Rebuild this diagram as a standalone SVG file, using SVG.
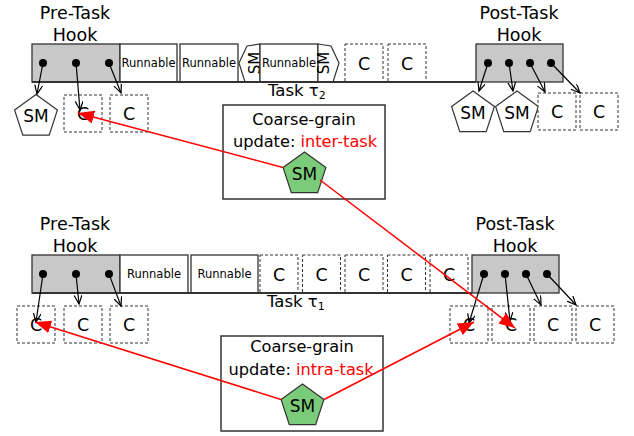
<svg xmlns="http://www.w3.org/2000/svg" width="634" height="436" viewBox="0 0 634 436">
<style>
text{font-family:"DejaVu Sans","Liberation Sans",sans-serif;fill:#000}
.lbl{font-size:17.5px;text-anchor:middle}
.hook{fill:#c8c8c8;stroke:#333;stroke-width:1.3}
.run{fill:#fff;stroke:#333;stroke-width:1.3}
.rt{font-size:11.5px;text-anchor:middle}
.dash{fill:#fff;stroke:#333;stroke-width:1;stroke-dasharray:3 2}
.ct{font-size:17.5px;text-anchor:middle}
.sm{fill:#fff;stroke:#333;stroke-width:1.2}
.gsm{fill:#7acb7a;stroke:#333;stroke-width:1.2}
.st{font-size:17px;text-anchor:middle}
.dot{fill:#000}
.tl{stroke:#333;stroke-width:2}
.box{fill:#fff;stroke:#333;stroke-width:1.5}
.cg{font-size:16.2px;text-anchor:middle}
.ca{stroke:#000;stroke-width:1.2;fill:none;marker-end:url(#bk)}
.ra{stroke:#f00;stroke-width:1.5;fill:none;marker-end:url(#rd)}
.red{fill:#f00}
</style>
<defs>
<marker id="bk" markerUnits="userSpaceOnUse" markerWidth="12" markerHeight="12" refX="9" refY="4" orient="auto">
<path d="M0,0 L9,4 L0,8" fill="none" stroke="#000" stroke-width="1.2"/>
</marker>
<marker id="rd" markerUnits="userSpaceOnUse" markerWidth="18" markerHeight="14" refX="16" refY="6.5" orient="auto">
<path d="M0,0 L16,6.5 L0,13 z" fill="#f00"/>
</marker>
<polygon id="pent" points="0,-22.5 21.4,-7 13.2,18.2 -13.2,18.2 -21.4,-7"/>
</defs>

<!-- ===== Top task tau2 ===== -->
<g id="pre-hook-top">
<text class="lbl" x="75" y="19">Pre-Task</text>
<text class="lbl" x="75" y="41">Hook</text>
<rect class="hook" x="32" y="44" width="88" height="38"/>
<circle class="dot" cx="43" cy="63" r="4"/>
<circle class="dot" cx="76" cy="63" r="4"/>
<circle class="dot" cx="109" cy="63" r="4"/>
</g>
<g id="run-top-1"><rect class="run" x="120" y="44" width="57" height="38"/><text class="rt" x="148.5" y="67">Runnable</text></g>
<g id="run-top-2"><rect class="run" x="180" y="44" width="58" height="38"/><text class="rt" x="209" y="67">Runnable</text></g>
<g id="sm-rot-1"><polygon class="sm" points="260,44 247,46 239,63 245,82 260,82"/><text font-size="15" text-anchor="middle" transform="translate(255,63) rotate(-90)" y="5">SM</text></g>
<g id="run-top-3"><rect class="run" x="260" y="44" width="58" height="38"/><text class="rt" x="289" y="67">Runnable</text></g>
<g id="sm-rot-2"><polygon class="sm" points="318,44 331,46 339,63 333,82 318,82"/><text font-size="15" text-anchor="middle" transform="translate(324,63) rotate(-90)" y="5">SM</text></g>
<g id="c-top-1"><rect class="dash" x="345" y="44" width="38" height="38"/><text class="ct" x="364" y="69.5">C</text></g>
<g id="c-top-2"><rect class="dash" x="388" y="44" width="38" height="38"/><text class="ct" x="407" y="69.5">C</text></g>
<g id="post-hook-top">
<text class="lbl" x="519" y="19">Post-Task</text>
<text class="lbl" x="519" y="41">Hook</text>
<rect class="hook" x="476" y="44" width="87" height="38"/>
<circle class="dot" cx="488" cy="63" r="4"/>
<circle class="dot" cx="509" cy="63" r="4"/>
<circle class="dot" cx="530" cy="63" r="4"/>
<circle class="dot" cx="551" cy="63" r="4"/>
</g>
<g id="timeline-top">
<line class="tl" x1="32" y1="82" x2="476" y2="82"/>
<text font-size="16.5" x="268" y="96">Task τ<tspan font-size="11" dy="3">2</tspan></text>
</g>
<g id="sm-tl"><use href="#pent" class="sm" x="36" y="117"/><text class="st" x="36" y="122">SM</text></g>
<g id="c-tl-1"><rect class="dash" x="64" y="95" width="38" height="37"/><text class="ct" x="83" y="120">C</text></g>
<g id="c-tl-2"><rect class="dash" x="110" y="95" width="38" height="37"/><text class="ct" x="129" y="120">C</text></g>
<g id="sm-tr-1"><use href="#pent" class="sm" x="473" y="113.5"/><text class="st" x="473" y="119">SM</text></g>
<g id="sm-tr-2"><use href="#pent" class="sm" x="517" y="113.5"/><text class="st" x="517" y="119">SM</text></g>
<g id="c-tr-1"><rect class="dash" x="538" y="93" width="38" height="37"/><text class="ct" x="557" y="118">C</text></g>
<g id="c-tr-2"><rect class="dash" x="580" y="93" width="38" height="37"/><text class="ct" x="599" y="118">C</text></g>
<g id="coarse-inter">
<rect class="box" x="223" y="105" width="162" height="94"/>
<text class="cg" x="304" y="125">Coarse-grain</text>
<text class="cg" x="305" y="147">update: <tspan class="red">inter-task</tspan></text>
<use href="#pent" class="gsm" x="304.5" y="174.5"/><text class="st" x="304.5" y="180">SM</text>
</g>

<!-- ===== Bottom task tau1 ===== -->
<g id="pre-hook-bot">
<text class="lbl" x="75" y="230">Pre-Task</text>
<text class="lbl" x="75" y="252">Hook</text>
<rect class="hook" x="32" y="255" width="88" height="38"/>
<circle class="dot" cx="43" cy="274" r="4"/>
<circle class="dot" cx="76" cy="274" r="4"/>
<circle class="dot" cx="109" cy="274" r="4"/>
</g>
<g id="run-bot-1"><rect class="run" x="120" y="255" width="68" height="38"/><text class="rt" x="154" y="278">Runnable</text></g>
<g id="run-bot-2"><rect class="run" x="191" y="255" width="67" height="38"/><text class="rt" x="224.5" y="278">Runnable</text></g>
<g id="c-bot-1"><rect class="dash" x="260" y="255" width="38" height="38"/><text class="ct" x="279" y="280.5">C</text></g>
<g id="c-bot-2"><rect class="dash" x="302.5" y="255" width="38" height="38"/><text class="ct" x="321.5" y="280.5">C</text></g>
<g id="c-bot-3"><rect class="dash" x="345" y="255" width="38" height="38"/><text class="ct" x="364" y="280.5">C</text></g>
<g id="c-bot-4"><rect class="dash" x="387.5" y="255" width="38" height="38"/><text class="ct" x="406.5" y="280.5">C</text></g>
<g id="c-bot-5"><rect class="dash" x="430" y="255" width="38" height="38"/><text class="ct" x="449" y="280.5">C</text></g>
<g id="post-hook-bot">
<text class="lbl" x="515" y="230">Post-Task</text>
<text class="lbl" x="515" y="252">Hook</text>
<rect class="hook" x="472" y="255" width="87" height="38"/>
<circle class="dot" cx="484" cy="274" r="4"/>
<circle class="dot" cx="505" cy="274" r="4"/>
<circle class="dot" cx="526" cy="274" r="4"/>
<circle class="dot" cx="547" cy="274" r="4"/>
</g>
<g id="timeline-bot">
<line class="tl" x1="32" y1="293" x2="472" y2="293"/>
<text font-size="16.5" x="267" y="307">Task τ<tspan font-size="11" dy="3">1</tspan></text>
</g>
<g id="c-bl-1"><rect class="dash" x="17" y="306" width="38" height="37"/><text class="ct" x="36" y="331">C</text></g>
<g id="c-bl-2"><rect class="dash" x="64" y="306" width="38" height="37"/><text class="ct" x="83" y="331">C</text></g>
<g id="c-bl-3"><rect class="dash" x="110" y="306" width="38" height="37"/><text class="ct" x="129" y="331">C</text></g>
<g id="c-br-1"><rect class="dash" x="450" y="306" width="38" height="37"/><text class="ct" x="469" y="331">C</text></g>
<g id="c-br-2"><rect class="dash" x="492" y="306" width="38" height="37"/><text class="ct" x="511" y="331">C</text></g>
<g id="c-br-3"><rect class="dash" x="534" y="306" width="38" height="37"/><text class="ct" x="553" y="331">C</text></g>
<g id="c-br-4"><rect class="dash" x="576" y="306" width="38" height="37"/><text class="ct" x="595" y="331">C</text></g>
<g id="coarse-intra">
<rect class="box" x="221" y="336" width="162" height="95"/>
<text class="cg" x="302" y="352">Coarse-grain</text>
<text class="cg" x="301" y="375">update: <tspan class="red">intra-task</tspan></text>
<use href="#pent" class="gsm" x="302.5" y="406.5"/><text class="st" x="302.5" y="412">SM</text>
</g>

<!-- ===== Connectors ===== -->
<g id="connectors">
<line class="ca" x1="43" y1="63" x2="37" y2="94"/>
<line class="ca" x1="76" y1="63" x2="80" y2="110"/>
<line class="ca" x1="109" y1="63" x2="121" y2="93"/>
<line class="ca" x1="488" y1="63" x2="479" y2="91"/>
<line class="ca" x1="509" y1="63" x2="513" y2="91"/>
<line class="ca" x1="530" y1="63" x2="545" y2="92"/>
<line class="ca" x1="551" y1="63" x2="580" y2="93"/>
<line class="ca" x1="43" y1="274" x2="36" y2="322"/>
<line class="ca" x1="76" y1="274" x2="79" y2="304"/>
<line class="ca" x1="109" y1="274" x2="121" y2="306"/>
<line class="ca" x1="484" y1="274" x2="469" y2="323"/>
<line class="ca" x1="505" y1="274" x2="510" y2="321"/>
<line class="ca" x1="526" y1="274" x2="541" y2="305"/>
<line class="ca" x1="547" y1="274" x2="576" y2="305"/>
<line class="ra" x1="283" y1="167.5" x2="78" y2="113"/>
<line class="ra" x1="320" y1="180" x2="515" y2="328"/>
<line class="ra" x1="281" y1="399.5" x2="35" y2="322"/>
<line class="ra" x1="324" y1="399.5" x2="474" y2="322"/>
</g>
</svg>
